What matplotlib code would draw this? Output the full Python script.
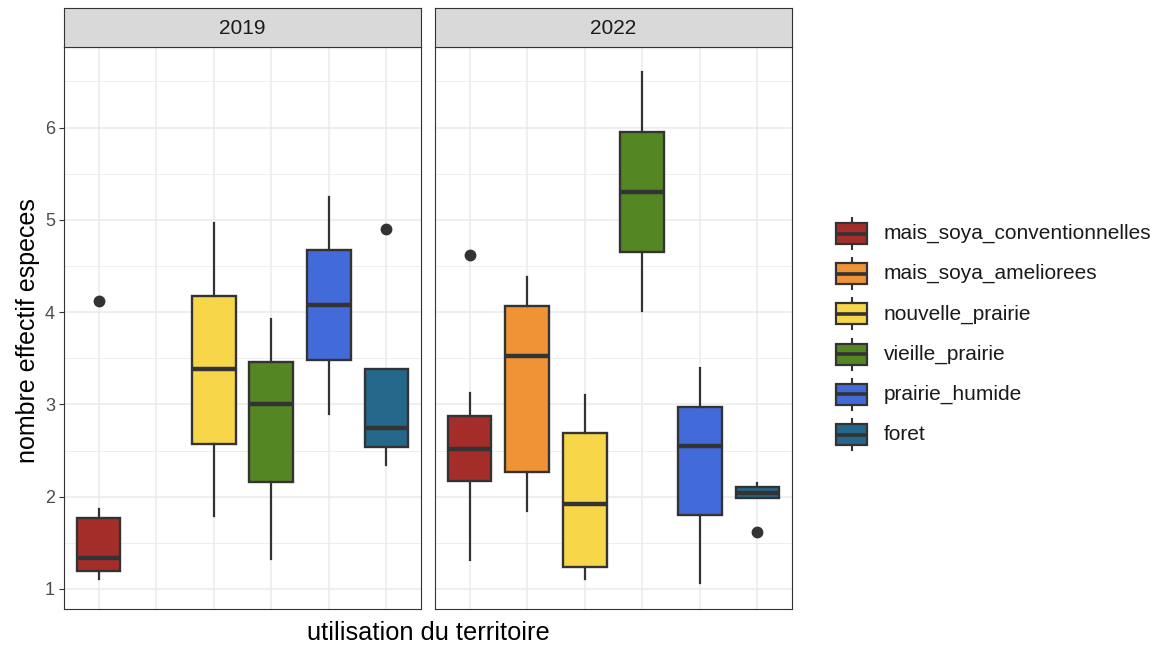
import matplotlib
matplotlib.use("Agg")
import matplotlib.pyplot as plt
from matplotlib.patches import Rectangle
import numpy as np

plt.rcParams['font.family'] = ['Liberation Sans', 'DejaVu Sans']

categories = ['mais_soya_conventionnelles', 'mais_soya_ameliorees', 'nouvelle_prairie',
              'vieille_prairie', 'prairie_humide', 'foret']
colors = ['#A52D29', '#EF9334', '#F8D649', '#548724', '#436AD9', '#25678A']
years = ['2019', '2022']

# box statistics (nan = category absent that year)
whislo = {'2019': [1.11, np.nan, 1.79, 1.33, 2.90, 2.34],
          '2022': [1.31, 1.84, 1.11, 4.01, 1.06, 1.99]}
q1 = {'2019': [1.20, np.nan, 2.57, 2.16, 3.48, 2.54],
      '2022': [2.17, 2.27, 1.24, 4.65, 1.80, 1.99]}
med = {'2019': [1.34, np.nan, 3.38, 3.00, 4.08, 2.75],
       '2022': [2.52, 3.52, 1.92, 5.30, 2.55, 2.04]}
q3 = {'2019': [1.77, np.nan, 4.18, 3.46, 4.67, 3.38],
      '2022': [2.88, 4.07, 2.69, 5.95, 2.97, 2.10]}
whishi = {'2019': [1.87, np.nan, 4.97, 3.93, 5.25, 3.38],
          '2022': [3.12, 4.38, 3.10, 6.60, 3.39, 2.15]}
fliers = {'2019': [[4.12], [], [], [], [], [4.90]],
          '2022': [[4.62], [], [], [], [], [1.62]]}

W, H = 1159, 649
fig = plt.figure(figsize=(W / 100, H / 100), dpi=100)
fig.patch.set_facecolor('white')

edge = '#333333'
panel_left = [64, 435]
panel_w = 357
top, bottom = 47.3, 609.3
strip_top = 8

for k, yr in enumerate(years):
    ax = fig.add_axes([panel_left[k] / W, (H - bottom) / H, panel_w / W, (bottom - top) / H])
    stats = []
    pos = []
    for i in range(len(categories)):
        if np.isnan(med[yr][i]):
            continue
        stats.append(dict(whislo=whislo[yr][i], q1=q1[yr][i], med=med[yr][i],
                          q3=q3[yr][i], whishi=whishi[yr][i], fliers=fliers[yr][i]))
        pos.append(i + 1)
    present = [i for i in range(len(categories)) if not np.isnan(med[yr][i])]
    bp = ax.bxp(stats, positions=pos, widths=0.76, patch_artist=True, showcaps=False,
                boxprops=dict(edgecolor=edge, linewidth=1.7),
                whiskerprops=dict(color=edge, linewidth=1.6),
                medianprops=dict(color=edge, linewidth=3.2, solid_capstyle='butt'),
                flierprops=dict(marker='o', markerfacecolor=edge, markeredgecolor=edge,
                                markersize=7.5), zorder=3)
    for patch, i in zip(bp['boxes'], present):
        patch.set_facecolor(colors[i])

    ax.set_xlim(0.4, 6.6)
    ax.set_ylim(0.78, 6.87)
    ax.set_xticks(range(1, 7))
    ax.set_yticks([1, 2, 3, 4, 5, 6])
    ax.set_yticks([1.5, 2.5, 3.5, 4.5, 5.5, 6.5], minor=True)
    ax.grid(True, which='major', color='#EBEBEB', linewidth=1.1, zorder=0)
    ax.grid(True, which='minor', axis='y', color='#EBEBEB', linewidth=0.6, zorder=0)
    ax.set_axisbelow(True)
    ax.tick_params(axis='x', length=0, labelbottom=False)
    ax.tick_params(axis='y', which='minor', length=0)
    if k == 0:
        ax.tick_params(axis='y', which='major', length=3.5, width=0.8, color=edge,
                       labelsize=13, labelcolor='#4D4D4D', pad=3)
    else:
        ax.tick_params(axis='y', which='major', length=0, labelleft=False)
    for s in ax.spines.values():
        s.set_color(edge)
        s.set_linewidth(0.8)

    # facet strip
    sax = fig.add_axes([panel_left[k] / W, (H - top) / H, panel_w / W, (top - strip_top) / H])
    sax.set_facecolor('#D9D9D9')
    sax.set_xticks([])
    sax.set_yticks([])
    for s in sax.spines.values():
        s.set_color(edge)
        s.set_linewidth(0.8)
    sax.text(0.5, 0.47, yr, transform=sax.transAxes, ha='center', va='center',
             fontsize=15, color='#1A1A1A')

fig.text(28 / W, 1 - 331 / H, 'nombre effectif especes', rotation=90, ha='center',
         va='center', fontsize=18)
fig.text(428 / W, 1 - 633 / H, 'utilisation du territoire', ha='center', va='center',
         fontsize=18.3)

# legend
lax = fig.add_axes([0, 0, 1, 1])
lax.set_xlim(0, W)
lax.set_ylim(H, 0)
lax.axis('off')
key_x, key_w = 836, 31
first_y, step = 233.5, 40.2
for i, name in enumerate(categories):
    cy = first_y + i * step
    lax.plot([key_x + key_w / 2] * 2, [cy - 15.5, cy + 15.5], color=edge, lw=1.5, zorder=1)
    lax.add_patch(Rectangle((key_x, cy - 10.5), key_w, 21, facecolor=colors[i],
                            edgecolor=edge, lw=1.6, zorder=2))
    lax.plot([key_x, key_x + key_w], [cy, cy], color=edge, lw=2.6, zorder=3,
             solid_capstyle='butt')
    lax.text(884, cy, name, ha='left', va='center', fontsize=15, color='#1A1A1A')

fig.savefig('out.png', dpi=100)
